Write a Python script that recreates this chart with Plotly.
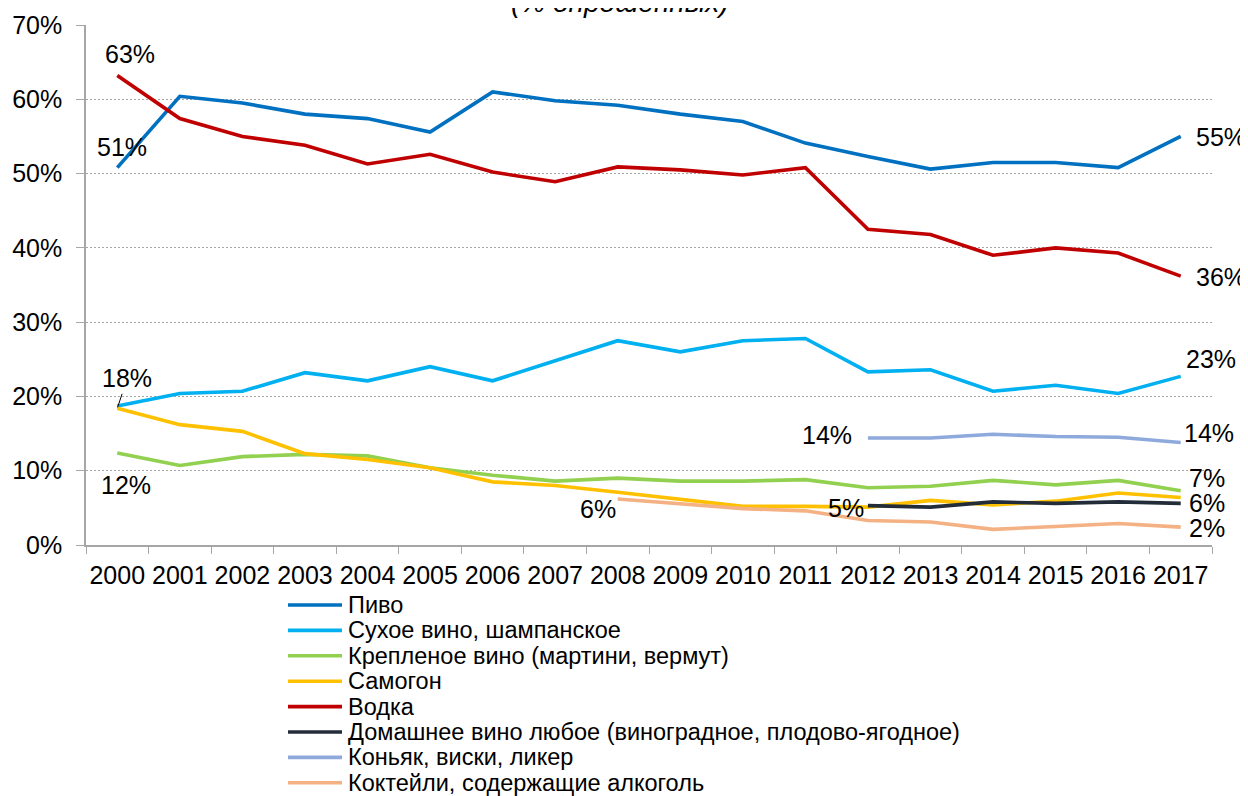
import plotly.graph_objects as go

years = [str(y) for y in range(2000, 2018)]

series_names = [
    "Пиво",
    "Сухое вино, шампанское",
    "Крепленое вино (мартини, вермут)",
    "Самогон",
    "Водка",
    "Домашнее вино любое (виноградное, плодово-ягодное)",
    "Коньяк, виски, ликер",
    "Коктейли, содержащие алкоголь",
]

pivo = [50.8, 60.4, 59.5, 58.0, 57.4, 55.6, 61.0, 59.8, 59.2, 58.0, 57.0, 54.1, 52.3, 50.6, 51.5, 51.5, 50.8, 55.0]
suhoe = [18.7, 20.4, 20.7, 23.2, 22.1, 24.0, 22.1, 24.8, 27.5, 26.0, 27.5, 27.8, 23.3, 23.6, 20.7, 21.5, 20.4, 22.7]
kreplenoe = [12.4, 10.7, 11.9, 12.2, 12.0, 10.4, 9.4, 8.6, 9.0, 8.6, 8.6, 8.8, 7.7, 7.9, 8.7, 8.1, 8.7, 7.3]
samogon = [18.4, 16.2, 15.3, 12.3, 11.5, 10.4, 8.5, 8.0, 7.1, 6.2, 5.2, 5.2, 5.1, 6.0, 5.4, 5.9, 7.0, 6.4]
vodka = [63.2, 57.4, 55.0, 53.8, 51.3, 52.6, 50.2, 48.9, 50.9, 50.5, 49.8, 50.8, 42.5, 41.8, 39.0, 40.0, 39.3, 36.2]
domashnee = [None] * 12 + [5.3, 5.1, 5.8, 5.6, 5.8, 5.6]
konyak = [None] * 12 + [14.4, 14.4, 14.9, 14.6, 14.5, 13.8]
kokteyli = [None] * 8 + [6.2, 5.6, 4.9, 4.6, 3.3, 3.1, 2.1, 2.5, 2.9, 2.4]

colors = ["#0070C0", "#00B0F0", "#92D050", "#FFC000", "#C00000", "#232D3A", "#8EA9DB", "#F4B183"]

all_series = [pivo, suhoe, kreplenoe, samogon, vodka, domashnee, konyak, kokteyli]

FONT = "Liberation Sans, Arial, sans-serif"
OFF = 8  # page body margin offset
W, H = 1240, 788
ML, MR, MT, MB = 86 - OFF, 36, 25 - OFF, 251
PW, PH = W - ML - MR, H - MT - MB


def px2paper_x(px):
    return (px - OFF - ML) / PW


def px2paper_y(py):
    return (H - MB - (py - OFF)) / PH


fig = go.Figure()
for name, vals, col in zip(series_names, all_series, colors):
    fig.add_trace(go.Scatter(
        x=years, y=vals, name=name, mode="lines",
        line=dict(color=col, width=3.6),
        connectgaps=False, showlegend=False,
    ))

# data labels: (series index, year index, xanchor, xshift, yshift)
label_specs = [
    (4, 0, "center", 13, 22),     # 63%
    (0, 0, "center", 5, 21),      # 51%
    (0, 17, "left", 13, -1),      # 55%
    (4, 17, "left", 13, -1),      # 36%
    (2, 0, "center", 9, -32),     # 12%
    (1, 17, "left", 3, 17),       # 23%
    (6, 12, "right", -14, 3),     # 14% left
    (6, 17, "left", 1, 9),        # 14% right
    (2, 17, "left", 6, 13),       # 7%
    (5, 17, "left", 6, 0),        # 6%
    (7, 17, "left", 6, -1),       # 2%
    (7, 8, "right", 0, -10),      # 6% (2008)
    (5, 12, "right", -2, -2),     # 5% (2012)
]
annotations = []
for si, yi, xa, xs, ys in label_specs:
    v = all_series[si][yi]
    annotations.append(dict(
        x=yi, y=v, xref="x", yref="y", text=f"{v:.0f}%",
        showarrow=False, xanchor=xa, yanchor="middle", xshift=xs, yshift=ys,
        font=dict(family=FONT, size=25, color="#000000"),
    ))

# 18% label with leader line
v18 = samogon[0]
annotations.append(dict(
    x=0, y=v18, xref="x", yref="y", text=f"{v18:.0f}%",
    showarrow=True, arrowhead=0, arrowwidth=1, arrowcolor="#000000",
    ax=10, ay=-30, standoff=1,
    font=dict(family=FONT, size=25, color="#000000"),
))

# title (cut at top)
annotations.append(dict(
    x=px2paper_x(620), y=1.0105, xref="paper", yref="paper",
    text="<i>(% опрошенных)</i>", showarrow=False,
    xanchor="center", yanchor="bottom",
    font=dict(family=FONT, size=28, color="#000000"),
))

# legend drawn below the plot
shapes = []
leg_top = 605
leg_step = 25.4
for i, (name, col) in enumerate(zip(series_names, colors)):
    yc = leg_top + i * leg_step
    shapes.append(dict(
        type="line", xref="paper", yref="paper",
        x0=px2paper_x(288), x1=px2paper_x(342),
        y0=px2paper_y(yc), y1=px2paper_y(yc),
        line=dict(color=col, width=3.6),
    ))
    annotations.append(dict(
        x=px2paper_x(346), y=px2paper_y(yc), xref="paper", yref="paper",
        text=name, showarrow=False, xanchor="left", yanchor="middle",
        font=dict(family=FONT, size=23.5, color="#000000"),
    ))

fig.update_layout(
    width=W, height=H,
    margin=dict(l=ML, r=MR, t=MT, b=MB),
    paper_bgcolor="#FFFFFF", plot_bgcolor="#FFFFFF",
    font=dict(family=FONT, color="#000000"),
    showlegend=False,
    annotations=annotations,
    shapes=shapes,
)

fig.update_xaxes(
    type="category", range=[-0.5, 17.5],
    tickson="boundaries", ticks="outside", ticklen=7, tickcolor="#A6A6A6",
    showline=True, linecolor="#A6A6A6", linewidth=1.5,
    showgrid=False, zeroline=False, tickangle=0, automargin=False,
    tickfont=dict(family=FONT, size=25, color="#000000"),
    ticklabelstandoff=7,
)
fig.update_yaxes(
    range=[0, 70], dtick=10, tick0=0, ticksuffix="%",
    ticks="outside", ticklen=8, tickcolor="#A6A6A6",
    showline=True, linecolor="#A6A6A6", linewidth=1.5,
    showgrid=True, gridcolor="#A6A6A6", gridwidth=1, griddash="2px,2px",
    zeroline=False, automargin=False,
    tickfont=dict(family=FONT, size=25, color="#000000"),
    ticklabelstandoff=9,
)

fig.write_html("out.html")
